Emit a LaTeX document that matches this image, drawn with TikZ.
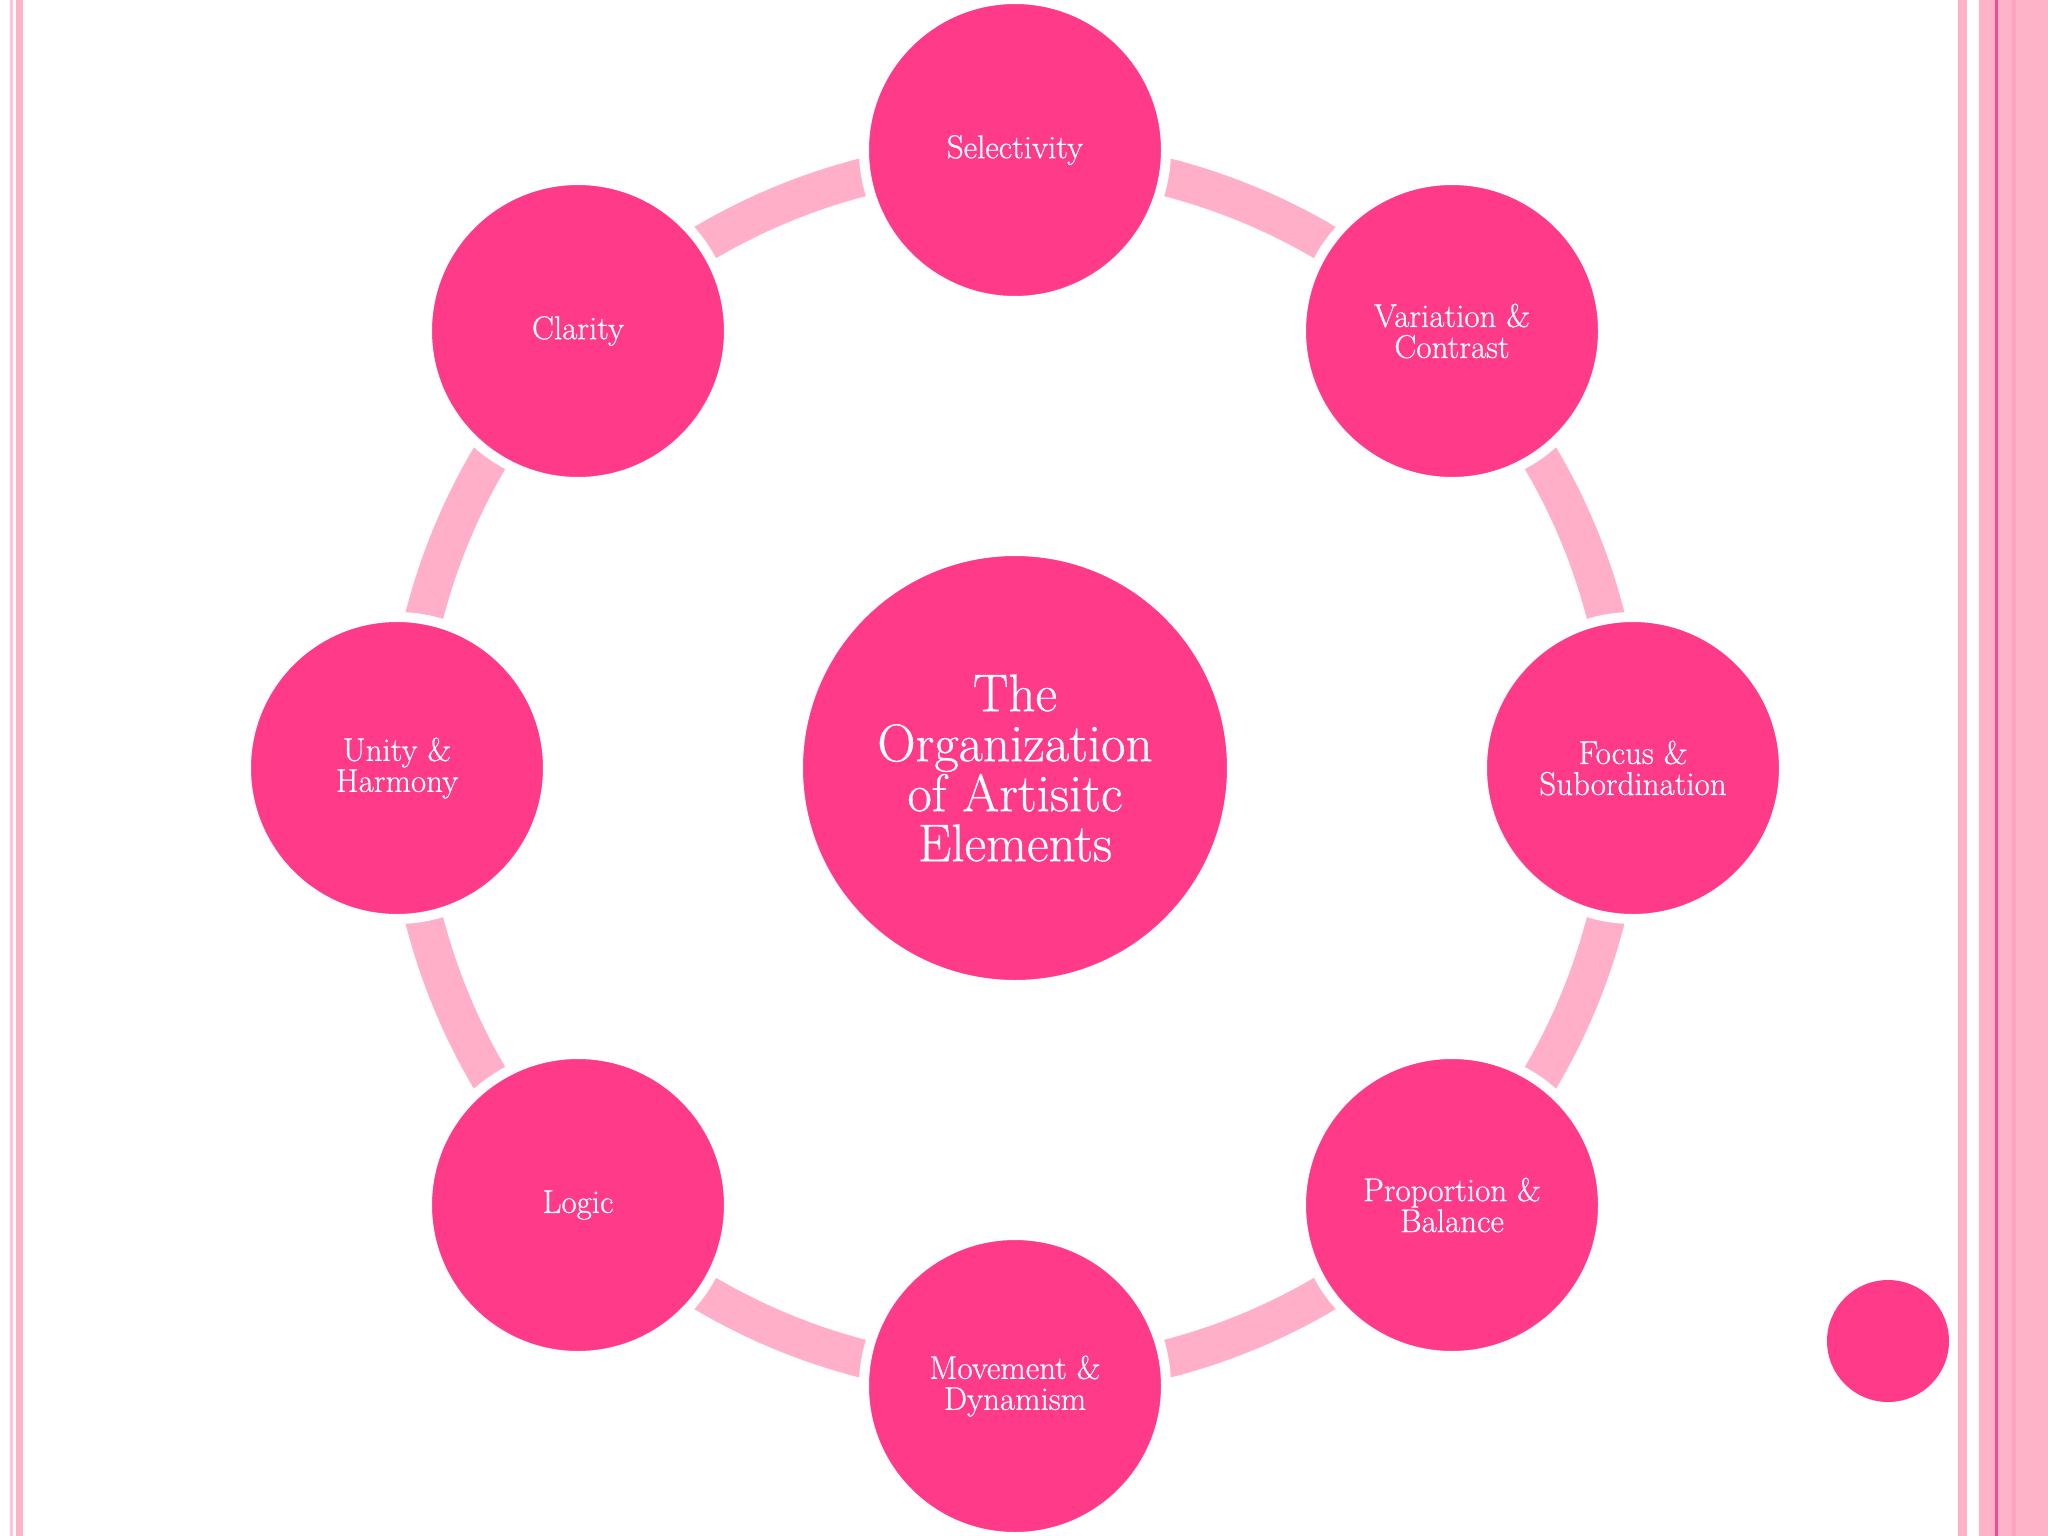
\documentclass[tikz,border=0pt]{standalone}
\usepackage{fontspec}
\setmainfont{Latin Modern Roman}[FakeBold=0.6]
\usetikzlibrary{backgrounds,calc}
\definecolor{hot}{HTML}{FF3A88}
\definecolor{ringpink}{HTML}{FFB0C8}
\definecolor{stripe}{HTML}{FFB3C9}
\definecolor{stripelite}{HTML}{FFC4D6}
\definecolor{stripedark}{HTML}{F04C94}
\definecolor{stripemid}{HTML}{FFA3BF}
\begin{document}
\begin{tikzpicture}[x=1pt,y=-1pt,
  item/.style={circle, fill=hot, draw=white, line width=10pt, minimum size=302pt, inner sep=0pt,
    text=white, align=center, font=\fontsize{33}{31}\selectfont},
  hub/.style={item, minimum size=434pt, font=\fontsize{53}{50}\selectfont},
  dot/.style={circle, fill=hot, minimum size=122pt, inner sep=0pt},
  link/.style={draw=ringpink, line width=38pt}]
\useasboundingbox (0,0) rectangle (2048,1536);
% nodes
\node[hub] (hub) at (1015,768) {The\\Organization\\of Artisitc\\Elements};
\node[item] (sel) at (1015,150) {Selectivity};
\node[item] (var) at (1452,331) {Variation \&\\Contrast};
\node[item] (foc) at (1633,768) {Focus \&\\Subordination};
\node[item] (pro) at (1452,1205) {Proportion \&\\Balance};
\node[item] (mov) at (1015,1386) {Movement \&\\Dynamism};
\node[item] (log) at (578,1205) {Logic};
\node[item] (uni) at (397,768) {Unity \&\\Harmony};
\node[item] (cla) at (578,331) {Clarity};
\node[dot] (small) at (1888,1341) {};
\begin{scope}[on background layer]
\fill[white] (0,0) rectangle (2048,1536);
% border stripes
\fill[stripelite] (10,0) rectangle (13,1536);
\fill[stripe] (16,0) rectangle (23,1536);
\fill[stripe] (1958,0) rectangle (1967,1536);
\fill[stripe] (1979,0) rectangle (2048,1536);
\fill[stripedark] (1995,0) rectangle (1998,1536);
\fill[stripemid] (2012,0) rectangle (2016,1536);
% ring connectors (radius 610 about the hub, running between neighbouring circles)
\def\rr{610}
\draw[link] ($(hub)!\rr/618!(sel)$) arc[start angle=-90, end angle=-45, radius=\rr];
\draw[link] ($(hub)!\rr/618!(var)$) arc[start angle=-45, end angle=0, radius=\rr];
\draw[link] ($(hub)!\rr/618!(foc)$) arc[start angle=0, end angle=45, radius=\rr];
\draw[link] ($(hub)!\rr/618!(pro)$) arc[start angle=45, end angle=90, radius=\rr];
\draw[link] ($(hub)!\rr/618!(mov)$) arc[start angle=90, end angle=135, radius=\rr];
\draw[link] ($(hub)!\rr/618!(log)$) arc[start angle=135, end angle=180, radius=\rr];
\draw[link] ($(hub)!\rr/618!(uni)$) arc[start angle=180, end angle=225, radius=\rr];
\draw[link] ($(hub)!\rr/618!(cla)$) arc[start angle=225, end angle=270, radius=\rr];
\end{scope}
\end{tikzpicture}
\end{document}
